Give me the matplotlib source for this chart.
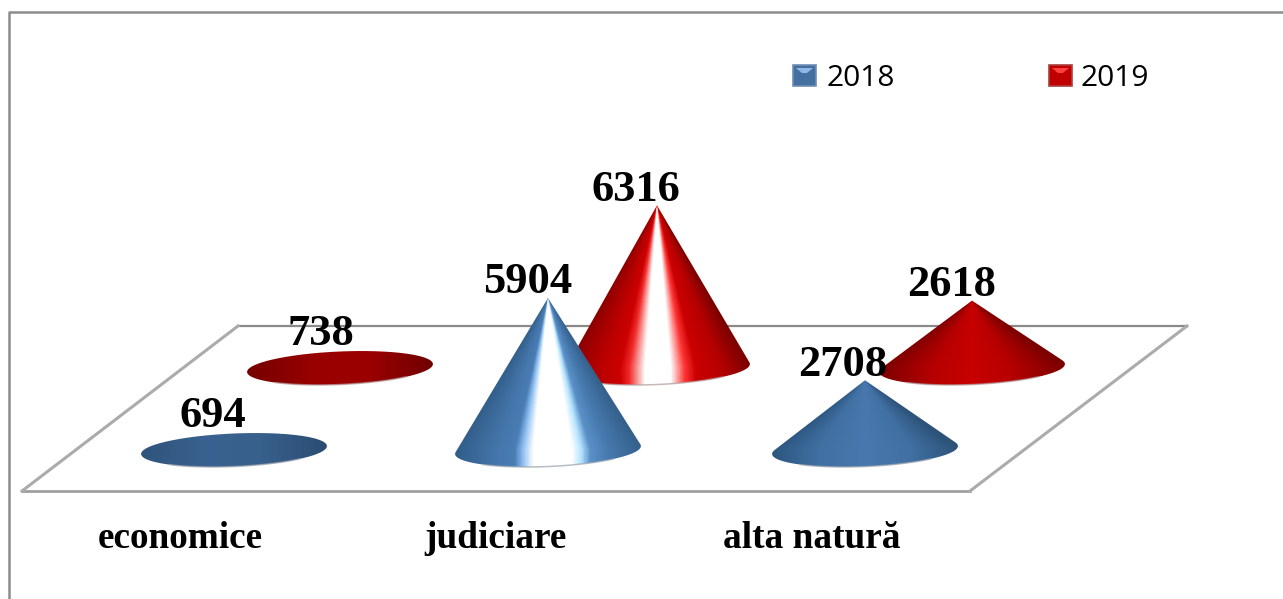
import numpy as np
import matplotlib
matplotlib.use('Agg')
import matplotlib.pyplot as plt
from matplotlib.colors import LinearSegmentedColormap
from matplotlib.patches import PathPatch, Rectangle
from matplotlib.path import Path

categories = ['economice', 'judiciare', 'alta natură']
years = ['2018', '2019']
values_2018 = [694, 5904, 2708]
values_2019 = [738, 6316, 2618]

W, H = 1283, 599
fig = plt.figure(figsize=(W / 100, H / 100), dpi=100)
ax = fig.add_axes([0, 0, 1, 1])
ax.set_xlim(0, W)
ax.set_ylim(H, 0)
ax.axis('off')

# shading across the cone, left edge to right edge
def stops(*pairs):
    return LinearSegmentedColormap.from_list('c', [((u + 1) / 2, col) for u, col in pairs], N=256)

shade = {
    '2018': {
        'flat': stops((-1, '#2f547c'), (-0.3, '#3a6290'), (0.3, '#38608c'), (1, '#2b4d72')),
        'low': stops((-1, '#2d5680'), (-0.5, '#4170a3'), (0, '#4878ae'), (0.5, '#4170a3'), (1, '#2d5379')),
        'tall': stops((-1, '#315d88'), (-0.55, '#4576ab'), (-0.36, '#4a7db5'), (-0.27, '#8fc0f2'),
                      (-0.16, '#ffffff'), (0.26, '#ffffff'), (0.36, '#b5e4ff'), (0.46, '#5a90c8'),
                      (0.65, '#477aaf'), (1, '#35618c')),
    },
    '2019': {
        'flat': stops((-1, '#760000'), (-0.3, '#980000'), (0.3, '#9c0000'), (1, '#700000')),
        'low': stops((-1, '#7c0000'), (-0.4, '#b80000'), (0, '#c80000'), (0.4, '#b80000'), (1, '#7c0000')),
        'tall': stops((-1, '#8a0000'), (-0.55, '#c00000'), (-0.4, '#cc0000'), (-0.3, '#f02a2a'),
                      (-0.13, '#ffffff'), (0.15, '#ffffff'), (0.3, '#ff3535'), (0.42, '#cc0000'),
                      (0.7, '#b50000'), (1, '#7c0000')),
    },
}

px_per_unit = 0.02575
rx, ry = 93, 16.5
tilt = np.radians(-2.5)


def ellipse_pts(cx, cy, t):
    ex = rx * np.cos(t)
    ey = ry * np.sin(t)
    return cx + ex * np.cos(tilt) - ey * np.sin(tilt), cy + ex * np.sin(tilt) + ey * np.cos(tilt)


def draw_cone(cx, cy, value, year, z):
    h = value * px_per_unit
    apex = cy - h
    kind = 'flat' if value < 1000 else ('low' if value < 4000 else 'tall')

    # silhouette: base arc up to the tangent points plus the apex, whole ellipse when flat
    if h > ry * 1.3:
        d = np.arcsin(ry / h)
        t = np.linspace(-d, np.pi + d, 200)
        ex, ey = ellipse_pts(cx, cy, t)
        vx = np.r_[ex, cx, ex[0]]
        vy = np.r_[ey, apex, ey[0]]
    else:
        t = np.linspace(0, 2 * np.pi, 300)
        vx, vy = ellipse_pts(cx, cy, t)
    clip = PathPatch(Path(np.c_[vx, vy]), fc='none', ec='none', transform=ax.transData)
    ax.add_patch(clip)

    x0, x1 = cx - rx - 3, cx + rx + 3
    y0, y1 = min(apex, cy - ry) - 3, cy + ry + 5
    xs = np.linspace(x0, x1, 220)
    ys = np.linspace(y0, y1, 220)
    xx, yy = np.meshgrid(xs, ys)
    if kind == 'flat':
        u = (xx - cx) / rx
    else:
        u = (xx - cx) / (rx * np.clip((yy - apex) / (cy - apex), 0.01, 1))
    u = np.clip(u, -1, 1)
    im = ax.imshow(shade[year][kind]((u + 1) / 2), extent=(x0, x1, y1, y0), aspect='auto',
                   interpolation='bilinear', zorder=z)
    im.set_clip_path(clip)

    # light rim on the underside
    t = np.linspace(0.25 * np.pi, 0.75 * np.pi, 60)
    ex, ey = ellipse_pts(cx, cy, t)
    ax.plot(ex, ey, color='#b09a9a' if year == '2019' else '#9aa2ac', lw=1.1, alpha=0.7,
            zorder=z + 0.1, solid_capstyle='butt')


# outer frame, open on the right
ax.plot([9, 9, W], [H, 12, 12], color='#8c8c8c', lw=1.8, zorder=1)

# floor of the 3d chart
floor_x = [22, 970, 1187, 238, 22]
floor_y = [491, 491, 326, 326, 491]
ax.plot(floor_x[:2], floor_y[:2], color='#a0a0a0', lw=2, zorder=2)
ax.plot(floor_x[2:4], floor_y[2:4], color='#8a8a8a', lw=1.6, zorder=2)
ax.plot(floor_x[1:3], floor_y[1:3], color='#ababab', lw=2.2, zorder=2)
ax.plot(floor_x[3:5], floor_y[3:5], color='#ababab', lw=2.2, zorder=2)

x_2018 = [234, 548, 865]
x_2019 = [340, 657, 972]
base_2018 = 450
base_2019 = 368

for i in range(3):
    draw_cone(x_2019[i], base_2019, values_2019[i], '2019', 3 + i)
for i in range(3):
    draw_cone(x_2018[i], base_2018, values_2018[i], '2018', 7 + i)

val_font = dict(family='Liberation Serif', weight='bold', fontsize=32, color='black', ha='center', va='baseline', zorder=20)
label_x_2018 = [213, 528, 843]
label_y_2018 = [427, 293, 376]
label_x_2019 = [321, 636, 952]
label_y_2019 = [345, 201, 296]
for i in range(3):
    ax.text(label_x_2019[i], label_y_2019[i], str(values_2019[i]), **val_font)
    ax.text(label_x_2018[i], label_y_2018[i], str(values_2018[i]), **val_font)

label_x = [180, 496, 812]
for x, name in zip(label_x, categories):
    ax.text(x, 548, name, family='Liberation Serif', weight='bold', fontsize=26.8,
            color='black', ha='center', va='baseline', zorder=20)

# legend
for lx, ly, year, c, c_hi, c_lo, tx in [
        (793, 65, years[0], '#44709f', '#8fb8e8', '#6f8fb5', 826),
        (1049, 65, years[1], '#c00000', '#ff4040', '#a84040', 1080)]:
    ax.add_patch(Rectangle((lx, ly), 23, 21, fc=c, ec=c_lo, lw=1.2, zorder=5))
    ax.fill([lx + 3, lx + 20, lx + 14, lx + 9], [ly + 3, ly + 3, ly + 8, ly + 8], color=c_hi, lw=0, zorder=6)
    ax.text(tx, 86, year, family='Open Sans', fontsize=21.5, color='black', ha='left', va='baseline', zorder=20)

fig.savefig('out.png', dpi=100)
